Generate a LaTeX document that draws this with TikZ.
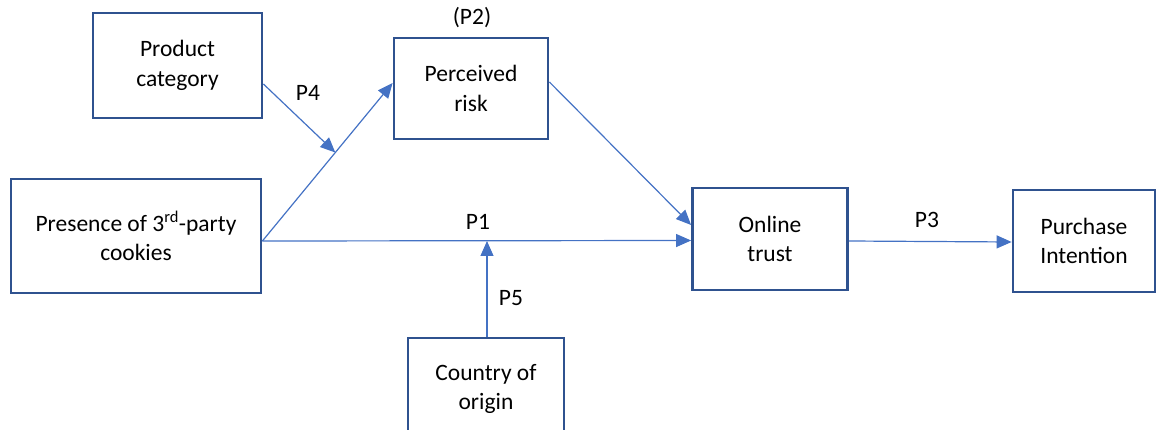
\documentclass[tikz,border=0pt]{standalone}
\usepackage{fontspec}
\setmainfont{Carlito}
\usetikzlibrary{arrows.meta,calc}
\definecolor{boxblue}{HTML}{2F528F}
\definecolor{arrblue}{HTML}{4472C4}
\tikzset{
  box/.style={draw=boxblue, line width=2.8pt, rectangle, align=center, inner sep=0pt,
    font=\fontsize{23.5}{29.5}\selectfont},
  conn/.style={draw=arrblue, line width=1.2pt, -{Triangle[length=15pt,width=13pt]}},
  lab/.style={font=\fontsize{23.5}{28}\selectfont, inner sep=0pt}
}
\begin{document}
\begin{tikzpicture}[x=1pt,y=-1pt]
\useasboundingbox (0,0) rectangle (1157,430);
\begin{scope}
\clip (0,0) rectangle (1157,430);
\node[box, minimum width=169pt, minimum height=105pt] (pc) at (177.5,65.5) {Product\\category};
\node[box, minimum width=154pt, minimum height=101pt] (pr) at (471,88.5) {Perceived\\risk};
\node[box, minimum width=250pt, minimum height=114pt] (pres) at (136,236) {Presence of 3\textsuperscript{rd}-party\\cookies};
\node[box, minimum width=155pt, minimum height=102pt] (ot) at (770,239) {Online\\trust};
\node[box, minimum width=142pt, minimum height=102pt] (pi) at (1084,241) {Purchase\\Intention};
\node[box, minimum width=156pt, minimum height=102pt] (co) at (486,389) {Country of\\origin};
\end{scope}
\node[lab] (p2) at (472,18) {(P2)};
\node[lab] (p4) at (308,93) {P4};
\node[lab] (p1) at (478,222) {P1};
\node[lab] (p5) at (511,298) {P5};
\node[lab] (p3) at (927,220) {P3};
\coordinate (ps) at ([yshift=-5pt]pres.east);
\coordinate (m) at ($(ps)!0.56!([yshift=5.5pt]pr.west)$);
\coordinate (j) at (co.north |- ps);
\draw[conn] (ps) -- ([yshift=5.5pt]pr.west);
\draw[conn] ([yshift=-18.5pt]pc.east) -- (m);
\draw[conn] (ps) -- ([yshift=-1.5pt]ot.west);
\draw[conn] ([xshift=1pt]co.north) -- ([xshift=1pt]j);
\draw[conn] ([yshift=6.5pt]pr.east) -- ([yshift=14pt]ot.west);
\draw[conn] ([yshift=-2pt]ot.east) -- ([yshift=-1pt]pi.west);
\end{tikzpicture}
\end{document}
